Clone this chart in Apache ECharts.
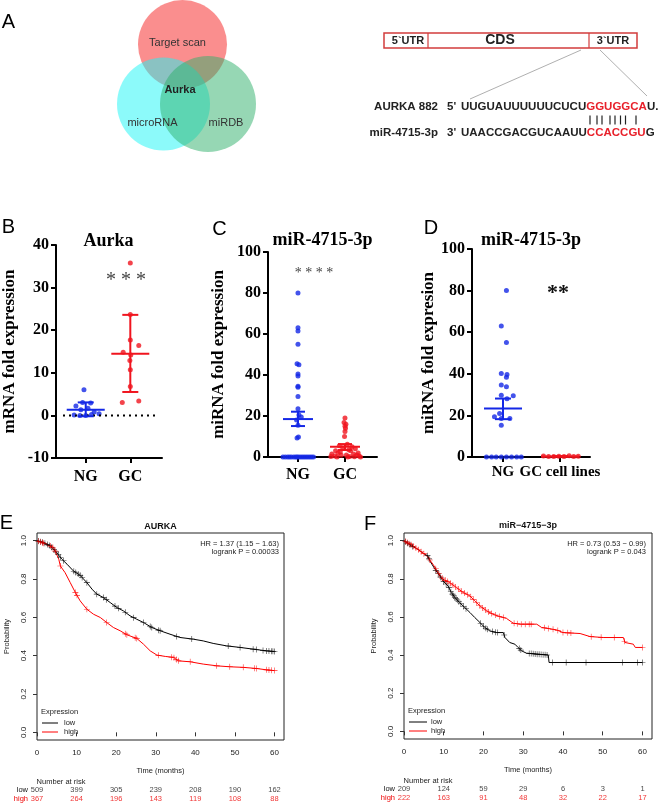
<!DOCTYPE html>
<html><head><meta charset="utf-8">
<script src="https://cdn.jsdelivr.net/npm/echarts@6/dist/echarts.min.js"></script>
<style>html,body{margin:0;padding:0;background:#fff}#c{width:658px;height:803px}</style>
</head><body><div id="c"></div>
<script>
// ================= DATA =================
// Panel B (Aurka mRNA)
const bCats = ['NG', 'GC'];
const bNG  = [6.0, 3.0, 2.9, 2.2, 1.7, 1.3, 0.8, 0.4, 0.1, 0.0, 0.0, 0.2];
const bNGx = [-0.04, -0.07, 0.11, -0.22, 0.05, -0.11, 0.19, 0.30, -0.26, -0.13, 0.0, 0.13];
const bGC  = [35.8, 23.7, 17.7, 16.4, 14.8, 14.2, 12.9, 10.7, 6.8, 3.0, 3.4];
const bGCx = [0.0, 0.0, 0.0, 0.19, -0.16, 0.01, -0.01, 0.0, 0.0, -0.18, 0.19];
const bStats = [[1, 1.3, -0.2, 3.05], [2, 14.5, 5.5, 23.6]]; // [group, mean, low, high]

// Panel C (miR-4715-3p tissues)
const cCats = ['NG', 'GC'];
const cNG  = [80, 63, 61.5, 55, 45.5, 45, 40.5, 39.5, 34.5, 34, 29.5, 23.5, 20.5, 19.5, 18, 15.5, 9.8, 9.3,
              0, 0, 0, 0, 0, 0, 0, 0, 0, 0, 0, 0, 0, 0, 0, 0, 0];
const cNGx = [0, 0, 0, 0, -0.02, 0.02, 0, 0, 0, 0, 0, 0, 0.02, 0.07, -0.03, 0, 0.01, -0.02,
              -0.32, -0.27, -0.22, -0.18, -0.14, -0.09, -0.05, -0.02, 0.01, 0.05, 0.09, 0.13, 0.17, 0.21, 0.25, 0.29, 0.33];
const cGC  = [19, 16.8, 16, 15, 14, 12.5, 10, 6.2, 5.5, 5, 4.5, 4, 3.5, 3, 3, 2.5, 2, 2, 1.5, 1.5, 1, 1, 0.8, 0.5, 0.5, 0.3, 0.2, 0.1, 0, 0, 0];
const cGCx = [0, -0.02, 0.02, 0, 0.01, 0, -0.01, 0.05, -0.12, 0.15, -0.05, 0.22, 0.08, -0.2, 0.12, -0.1, 0.28, -0.15, 0.18, -0.28, 0.03, 0.25, -0.08, -0.22, 0.3, 0.1, -0.3, 0.2, -0.17, 0.06, 0.33];
const cStats = [[1, 18.5, 15.1, 22.1], [2, 5.0, 3.4, 6.3]];

// Panel D (miR-4715-3p cell lines)
const dCats = ['NG', 'GC cell lines'];
const dNG  = [80, 63, 55, 40.2, 39.7, 38.3, 34.6, 33.8, 29.7, 29.5, 28, 20.9, 19.3, 18.5, 18.5, 15.3, 0, 0, 0, 0, 0, 0, 0, 0];
const dNGx = [0.06, -0.03, 0.06, -0.03, 0.07, 0.06, -0.03, 0.06, -0.03, 0.18, 0.07, -0.06, -0.15, -0.03, 0.12, -0.03, -0.29, -0.2, -0.12, -0.03, 0.06, 0.15, 0.24, 0.32];
const dGC  = [0.5, 0.3, 0.2, 0.4, 0.3, 0.6, 0.2, 0.4];
const dGCx = [-0.29, -0.2, -0.11, -0.02, 0.07, 0.16, 0.24, 0.32];
const dStats = [[1, 23.3, 18.2, 28.1], [2, 0.3, 0.2, 0.4]];

// Panel E (AURKA KM)
const eLowT  = [0, 1.7, 3.4, 5.0, 6.3, 7.6, 9.2, 10.9, 12.6, 13.9, 15.1, 16.8, 18.5, 20.2, 21.8, 23.5, 25.2, 26.9, 29.0, 31.1, 33.6, 36.1, 39.5, 42.0, 44.5, 47.9, 51.3, 54.6, 58.0, 60.0];
const eLowS  = [1.0, 0.99, 0.972, 0.937, 0.903, 0.877, 0.842, 0.819, 0.781, 0.747, 0.721, 0.703, 0.677, 0.651, 0.634, 0.608, 0.59, 0.573, 0.547, 0.53, 0.512, 0.495, 0.486, 0.477, 0.464, 0.451, 0.443, 0.434, 0.425, 0.422];
const eHighT = [0, 2.5, 4.2, 5.5, 5.9, 7.1, 8.4, 9.7, 10.9, 12.6, 14.3, 16.0, 17.6, 19.3, 21.0, 22.7, 25.2, 26.9, 28.6, 30.3, 32.4, 34.5, 35.7, 38.7, 42.0, 45.4, 48.7, 52.1, 55.5, 58.0, 60.0];
const eHighS = [1.0, 0.98, 0.964, 0.903, 0.868, 0.833, 0.781, 0.729, 0.686, 0.642, 0.616, 0.599, 0.573, 0.547, 0.53, 0.509, 0.49, 0.46, 0.425, 0.403, 0.396, 0.391, 0.373, 0.368, 0.356, 0.347, 0.342, 0.339, 0.333, 0.326, 0.322];
const eLowCens  = [0.4, 0.9, 1.4, 2.0, 2.6, 3.1, 3.7, 4.3, 4.8, 5.4, 5.9, 6.7, 9.3, 9.8, 10.4, 10.9, 11.4, 12.6, 15.1, 16.8, 17.5, 19.7, 20.6, 22.3, 24.4, 26.9, 28.6, 29.0, 30.7, 31.1, 35.3, 39.1, 48.3, 51.3, 54.6, 55.4, 57.1, 58.0, 58.6, 59.2, 59.6, 60.0];
const eHighCens = [0.4, 0.9, 1.4, 1.7, 3.4, 4.0, 4.6, 5.9, 9.7, 10.1, 12.6, 17.6, 22.3, 22.7, 24.8, 25.2, 30.7, 34.0, 34.6, 35.2, 35.7, 38.7, 45.4, 48.7, 52.1, 55.0, 55.5, 58.0, 58.6, 59.2, 60.0];
const riskTimes = [0, 10, 20, 30, 40, 50, 60];
const eRiskLow  = [509, 399, 305, 239, 208, 190, 162];
const eRiskHigh = [367, 264, 196, 143, 119, 108, 88];

// Panel F (miR-4715-3p KM)
const fLowT  = [0, 1.9, 3.5, 4.8, 6.0, 6.5, 7.3, 8.1, 9.0, 9.8, 11.1, 11.9, 12.8, 14.0, 15.3, 16.6, 17.8, 19.1, 20.3, 21.6, 23.3, 25.0, 25.4, 26.6, 27.9, 28.7, 29.6, 30.8, 33.4, 36.3, 36.5, 60.0];
const fLowS  = [1.0, 0.972, 0.955, 0.934, 0.92, 0.894, 0.867, 0.841, 0.815, 0.789, 0.762, 0.728, 0.702, 0.675, 0.649, 0.623, 0.597, 0.571, 0.545, 0.527, 0.518, 0.518, 0.492, 0.466, 0.457, 0.44, 0.422, 0.41, 0.405, 0.4, 0.361, 0.361];
const fHighT = [0, 2.3, 4.0, 5.6, 7.3, 8.6, 9.8, 11.5, 13.2, 14.9, 16.6, 17.8, 19.1, 20.8, 22.4, 24.1, 25.8, 27.5, 29.2, 33.4, 34.6, 38.4, 40.0, 44.3, 46.8, 50.2, 55.2, 55.6, 57.7, 58.2, 60.0];
const fHighS = [1.0, 0.972, 0.946, 0.923, 0.876, 0.832, 0.798, 0.78, 0.754, 0.728, 0.71, 0.684, 0.658, 0.632, 0.614, 0.602, 0.592, 0.567, 0.562, 0.562, 0.545, 0.532, 0.518, 0.513, 0.497, 0.492, 0.492, 0.466, 0.457, 0.44, 0.44];
const fLowCens  = [0.4, 0.9, 1.5, 2.1, 5.9, 6.3, 8.0, 8.6, 9.2, 10.0, 10.6, 11.3, 11.8, 12.2, 12.5, 12.8, 13.1, 13.4, 13.8, 14.3, 15.0, 15.6, 19.3, 20.0, 20.6, 21.0, 22.3, 23.0, 23.5, 25.2, 29.0, 29.4, 31.5, 32.0, 32.5, 33.0, 33.5, 34.0, 34.5, 35.0, 35.5, 36.0, 37.4, 40.8, 45.8, 55.0, 58.8, 60.0];
const fHighCens = [0.4, 0.8, 1.3, 1.8, 2.4, 3.0, 3.6, 4.3, 5.0, 6.5, 8.0, 8.8, 9.6, 10.4, 11.0, 11.7, 12.3, 13.0, 13.7, 14.5, 15.2, 16.0, 16.8, 17.5, 18.3, 19.0, 19.8, 20.5, 21.3, 22.0, 23.0, 24.0, 25.0, 27.7, 28.5, 29.5, 30.5, 31.5, 32.0, 35.3, 36.3, 37.5, 38.7, 40.0, 41.2, 42.0, 47.1, 49.6, 52.9, 55.5, 60.0];
const fRiskLow  = [209, 124, 59, 29, 6, 3, 1];
const fRiskHigh = [222, 163, 91, 48, 32, 22, 17];

const kmTicks = [0, 10, 20, 30, 40, 50, 60];
const probTicks = [0, 0.2, 0.4, 0.6, 0.8, 1.0];

// ================= HELPERS =================
const serif = "'Liberation Serif','Times New Roman',serif";
const sans = "'Liberation Sans',Arial,Helvetica,sans-serif";
const BLUE = '#1428e6', RED = '#f0141e';
const KRED = '#ff0000';

function pts(vals, offs, c) { return vals.map((v, i) => [c + offs[i], v]); }
function zip(t, s) { return t.map((x, i) => [x, s[i]]); }
function survAt(t, T, S) {
  for (let i = 1; i < T.length; i++) {
    if (t <= T[i]) { const f = (t - T[i-1]) / (T[i] - T[i-1]); return S[i-1] + f * (S[i] - S[i-1]); }
  }
  return S[S.length - 1];
}
const plusSym = 'path://M4.5,0h1v10h-1zM0,4.5h10v1h-10z';

function dotXAxis(gi, min, max, cats, margin, fs) {
  return { type: 'value', gridIndex: gi, min: min, max: max,
    axisLine: { show: true, onZero: false, lineStyle: { color: '#000', width: 2 } },
    axisTick: { show: true, customValues: [1, 2], length: 5, lineStyle: { width: 2, color: '#000' } },
    axisLabel: { customValues: [1, 2], formatter: v => cats[Math.round(v) - 1], margin: margin, color: '#000',
      fontFamily: serif, fontWeight: 'bold', fontSize: fs || 16 },
    splitLine: { show: false } };
}
function dotYAxis(gi, min, max, interval, name, gap) {
  return { type: 'value', gridIndex: gi, min: min, max: max, interval: interval, name: name,
    nameLocation: 'middle', nameGap: gap,
    nameTextStyle: { fontFamily: serif, fontWeight: 'bold', fontSize: 17, color: '#000' },
    axisLine: { show: true, onZero: false, lineStyle: { color: '#000', width: 2 } },
    axisTick: { show: true, length: 5, lineStyle: { width: 2, color: '#000' } },
    axisLabel: { margin: 7, color: '#000', fontFamily: serif, fontWeight: 'bold', fontSize: 16 },
    splitLine: { show: false } };
}
function kmXAxis(gi) {
  return { type: 'value', gridIndex: gi, min: 0, max: 62.4, name: 'Time (months)', nameLocation: 'middle', nameGap: 27,
    nameTextStyle: { fontFamily: sans, fontSize: 7.5, color: '#222' },
    axisLine: { show: false },
    axisTick: { show: true, customValues: kmTicks, length: 4, lineStyle: { color: '#333', width: 1 } },
    axisLabel: { customValues: kmTicks, margin: 9, fontFamily: sans, fontSize: 8, color: '#222' },
    splitLine: { show: false } };
}
function kmYAxis(gi) {
  return { type: 'value', gridIndex: gi, min: -0.04, max: 1.04, name: 'Probability', nameLocation: 'middle', nameGap: 26,
    nameTextStyle: { fontFamily: sans, fontSize: 7.5, color: '#222' },
    axisLine: { show: false },
    axisTick: { show: true, customValues: probTicks, length: 4, lineStyle: { color: '#333', width: 1 } },
    axisLabel: { customValues: probTicks, rotate: 90, margin: 9, formatter: v => v.toFixed(1),
      fontFamily: sans, fontSize: 8, color: '#222' },
    splitLine: { show: false } };
}
function riskYAxis(gi) {
  return { type: 'category', gridIndex: gi, data: ['high', 'low'],
    axisLine: { show: false }, axisTick: { show: false },
    axisLabel: { interval: 0, hideOverlap: false, margin: 9, formatter: v => '{' + v + '|' + v + '}',
      rich: { low: { color: '#111', fontSize: 7.5, fontFamily: sans, lineHeight: 8 }, high: { color: '#e00', fontSize: 7.5, fontFamily: sans, lineHeight: 8 } } } };
}
function dotSeries(gi, data, color) {
  return { type: 'scatter', xAxisIndex: gi, yAxisIndex: gi, data: data, symbolSize: 5, clip: false,
    itemStyle: { color: color }, silent: true };
}
function errSeries(gi, stat, color, halfMean, halfCap) {
  return { type: 'custom', xAxisIndex: gi, yAxisIndex: gi, clip: false, silent: true, z: 5,
    data: [stat],
    renderItem: function (params, api) {
      const x = api.value(0), m = api.value(1), lo = api.value(2), hi = api.value(3);
      const pm = api.coord([x, m]), pl = api.coord([x, lo]), ph = api.coord([x, hi]);
      const st = { stroke: color, lineWidth: 2 };
      return { type: 'group', children: [
        { type: 'line', shape: { x1: pm[0] - halfMean, y1: pm[1], x2: pm[0] + halfMean, y2: pm[1] }, style: st },
        { type: 'line', shape: { x1: pl[0], y1: pl[1], x2: ph[0], y2: ph[1] }, style: st },
        { type: 'line', shape: { x1: pl[0] - halfCap, y1: pl[1], x2: pl[0] + halfCap, y2: pl[1] }, style: st },
        { type: 'line', shape: { x1: ph[0] - halfCap, y1: ph[1], x2: ph[0] + halfCap, y2: ph[1] }, style: st }
      ] };
    } };
}
function kmLine(gi, name, T, S, color) {
  return { type: 'line', name: name, xAxisIndex: gi, yAxisIndex: gi, data: zip(T, S), symbol: 'none',
    lineStyle: { color: color, width: 1 }, itemStyle: { color: color }, silent: true, z: 3 };
}
function kmCens(gi, C, T, S, color) {
  return { type: 'scatter', xAxisIndex: gi, yAxisIndex: gi, data: C.map(t => [t, survAt(t, T, S)]),
    symbol: plusSym, symbolSize: 6, itemStyle: { color: color }, silent: true, clip: false, z: 4 };
}
function riskSeries(gi, row, counts, color) {
  return { type: 'scatter', xAxisIndex: gi, yAxisIndex: gi, symbolSize: 0, silent: true,
    data: riskTimes.map((t, i) => [t, row, counts[i]]),
    label: { show: true, position: 'inside', formatter: p => String(p.value[2]), color: color, fontSize: 7.5, fontFamily: sans } };
}

// ================= GRAPHICS (panel A, titles, annotations) =================
const G = [];
function txt(x, y, text, o) {
  G.push({ type: 'text', x: x, y: y, silent: true,
    style: Object.assign({ text: text, fill: '#000', align: 'center', verticalAlign: 'middle', fontFamily: sans, fontSize: 12 }, o || {}) });
}
function ln(x1, y1, x2, y2, color, w) {
  G.push({ type: 'line', silent: true, shape: { x1: x1, y1: y1, x2: x2, y2: y2 }, style: { stroke: color, lineWidth: w || 1 } });
}
// panel letters
[['A', 8.5, 22.5], ['B', 8.5, 227.5], ['C', 219.5, 229.5], ['D', 431, 228], ['E', 6.5, 523.5], ['F', 370, 524.5]]
  .forEach(a => txt(a[1], a[2], a[0], { fontSize: 20 }));
// Venn
G.push({ type: 'circle', silent: true, shape: { cx: 182.5, cy: 44.5, r: 44.5 }, style: { fill: 'rgba(245,30,30,0.5)' } });
G.push({ type: 'circle', silent: true, shape: { cx: 163.5, cy: 104, r: 46.5 }, style: { fill: 'rgba(25,245,245,0.5)' } });
G.push({ type: 'circle', silent: true, shape: { cx: 208, cy: 104, r: 48 }, style: { fill: 'rgba(45,175,105,0.5)' } });
txt(177.5, 43, 'Target scan', { fontSize: 11, fill: '#333' });
txt(180, 90, 'Aurka', { fontSize: 11, fontWeight: 'bold', fill: '#222' });
txt(152.5, 122.5, 'microRNA', { fontSize: 11, fill: '#333' });
txt(226, 122.5, 'miRDB', { fontSize: 11, fill: '#333' });
// UTR diagram
G.push({ type: 'rect', silent: true, shape: { x: 384, y: 33, width: 253, height: 15 }, style: { fill: 'none', stroke: '#d23c3c', lineWidth: 1.5 } });
ln(428, 33, 428, 48, '#d23c3c', 1.2);
ln(589, 33, 589, 48, '#d23c3c', 1.2);
txt(408, 41, '5`UTR', { fontSize: 11, fontWeight: 'bold', fill: '#222' });
txt(500, 40.5, 'CDS', { fontSize: 14, fontWeight: 'bold', fill: '#222' });
txt(613, 41, '3`UTR', { fontSize: 11, fontWeight: 'bold', fill: '#222' });
ln(581, 50, 470, 99, '#9a9a9a', 0.8);
ln(600, 50, 647, 96, '#9a9a9a', 0.8);
const seqFont = { fontSize: 11.5, fontWeight: 'bold', fill: '#222' };
txt(438, 106.7, 'AURKA 882', Object.assign({ align: 'right' }, seqFont));
txt(447, 106.7, "5'", Object.assign({ align: 'left' }, seqFont));
txt(461, 106.7, '{k|UUGUAUUUUUUCUCU}{r|GGUGGCA}{k|U..}', Object.assign({ align: 'left',
  rich: { k: { fill: '#222', fontSize: 11.5, fontWeight: 'bold', fontFamily: sans }, r: { fill: '#e8202a', fontSize: 11.5, fontWeight: 'bold', fontFamily: sans } } }, seqFont));
[590, 597, 602, 610, 615, 620.5, 625.5, 636].forEach(x => ln(x, 115.5, x, 124.5, '#222', 1.2));
txt(438, 133.3, 'miR-4715-3p', Object.assign({ align: 'right' }, seqFont));
txt(447, 133.3, "3'", Object.assign({ align: 'left' }, seqFont));
txt(461, 133.3, '{k|UAACCGACGUCAAUU}{r|CCACCGU}{k|G}', Object.assign({ align: 'left',
  rich: { k: { fill: '#222', fontSize: 11.5, fontWeight: 'bold', fontFamily: sans }, r: { fill: '#e8202a', fontSize: 11.5, fontWeight: 'bold', fontFamily: sans } } }, seqFont));
// dot-plot titles and stars
txt(108.5, 241.5, 'Aurka', { fontFamily: serif, fontWeight: 'bold', fontSize: 18 });
txt(322.5, 240, 'miR-4715-3p', { fontFamily: serif, fontWeight: 'bold', fontSize: 18 });
txt(531, 240, 'miR-4715-3p', { fontFamily: serif, fontWeight: 'bold', fontSize: 18 });
txt(126, 281, '* * *', { fontFamily: serif, fontSize: 20, fill: '#444' });
txt(314, 273, '* * * *', { fontFamily: serif, fontSize: 14, fill: '#444' });
txt(558, 293, '**', { fontFamily: serif, fontSize: 22, fontWeight: 'bold', fill: '#111' });
// KM annotations
const kmF = { fontSize: 7.5, fill: '#222' };
txt(160.5, 527, 'AURKA', { fontSize: 9, fontWeight: 'bold', fill: '#111' });
txt(279, 543.7, 'HR = 1.37 (1.15 \u2212 1.63)', Object.assign({ align: 'right' }, kmF));
txt(279, 552, 'logrank P = 0.00033', Object.assign({ align: 'right' }, kmF));
txt(528, 526, 'miR\u22124715\u22123p', { fontSize: 9, fontWeight: 'bold', fill: '#111' });
txt(646, 543.5, 'HR = 0.73 (0.53 \u2212 0.99)', Object.assign({ align: 'right' }, kmF));
txt(646, 552, 'logrank P = 0.043', Object.assign({ align: 'right' }, kmF));
// KM legends
txt(41, 712, 'Expression', Object.assign({ align: 'left' }, kmF));
ln(42, 723, 58, 723, '#000', 1); txt(64, 723, 'low', Object.assign({ align: 'left' }, kmF));
ln(42, 732, 58, 732, KRED, 1); txt(64, 732, 'high', Object.assign({ align: 'left' }, kmF));
txt(408, 711, 'Expression', Object.assign({ align: 'left' }, kmF));
ln(409, 722, 427, 722, '#000', 1); txt(431, 722, 'low', Object.assign({ align: 'left' }, kmF));
ln(409, 731, 427, 731, KRED, 1); txt(431, 731, 'high', Object.assign({ align: 'left' }, kmF));
txt(61, 782, 'Number at risk', kmF);
txt(428, 780.5, 'Number at risk', kmF);

// ================= OPTION =================
const option = {
  animation: false,
  backgroundColor: '#fff',
  grid: [
    { left: 55, top: 245, width: 107, height: 213 },
    { left: 268, top: 252, width: 109, height: 205 },
    { left: 472, top: 249, width: 118, height: 208 },
    { left: 37, top: 533, width: 247, height: 207, show: true, borderColor: '#222', borderWidth: 1, backgroundColor: 'transparent' },
    { left: 404, top: 533, width: 248, height: 206, show: true, borderColor: '#222', borderWidth: 1, backgroundColor: 'transparent' },
    { left: 37, top: 785.5, width: 247, height: 18 },
    { left: 404, top: 784.5, width: 248, height: 18 }
  ],
  xAxis: [
    dotXAxis(0, 0.333, 2.711, bCats, 11),
    dotXAxis(1, 0.362, 2.681, cCats, 10),
    dotXAxis(2, 0.456, 2.526, dCats, 8, 15),
    kmXAxis(3), kmXAxis(4),
    { type: 'value', gridIndex: 5, min: 0, max: 62.4, show: false },
    { type: 'value', gridIndex: 6, min: 0, max: 62.4, show: false }
  ],
  yAxis: [
    dotYAxis(0, -10, 40, 10, 'mRNA fold expression', 38),
    dotYAxis(1, 0, 100, 20, 'miRNA fold expression', 41),
    dotYAxis(2, 0, 100, 20, 'miRNA fold expresion', 35),
    kmYAxis(3), kmYAxis(4),
    riskYAxis(5), riskYAxis(6)
  ],
  graphic: G,
  series: [
    { type: 'line', xAxisIndex: 0, yAxisIndex: 0, data: [[0.49, 0], [2.6, 0]], symbol: 'none', silent: true,
      lineStyle: { color: '#000', width: 2, type: [2, 4] } },
    dotSeries(0, pts(bNG, bNGx, 1), BLUE), dotSeries(0, pts(bGC, bGCx, 2), RED),
    errSeries(0, bStats[0], BLUE, 19, 8), errSeries(0, bStats[1], RED, 19, 8),
    dotSeries(1, pts(cNG, cNGx, 1), BLUE), dotSeries(1, pts(cGC, cGCx, 2), RED),
    errSeries(1, cStats[0], BLUE, 15, 7), errSeries(1, cStats[1], RED, 15, 7),
    dotSeries(2, pts(dNG, dNGx, 1), BLUE), dotSeries(2, pts(dGC, dGCx, 2), RED),
    errSeries(2, dStats[0], BLUE, 19, 8), errSeries(2, dStats[1], RED, 19, 8),
    kmLine(3, 'low', eLowT, eLowS, '#000'), kmLine(3, 'high', eHighT, eHighS, KRED),
    kmCens(3, eLowCens, eLowT, eLowS, '#000'), kmCens(3, eHighCens, eHighT, eHighS, KRED),
    kmLine(4, 'low', fLowT, fLowS, '#000'), kmLine(4, 'high', fHighT, fHighS, KRED),
    kmCens(4, fLowCens, fLowT, fLowS, '#000'), kmCens(4, fHighCens, fHighT, fHighS, KRED),
    riskSeries(5, 'low', eRiskLow, '#111'), riskSeries(5, 'high', eRiskHigh, '#e00'),
    riskSeries(6, 'low', fRiskLow, '#111'), riskSeries(6, 'high', fRiskHigh, '#e00')
  ]
};
const chart = echarts.init(document.getElementById('c'), null, { renderer: 'canvas' });
chart.setOption(option);
</script>
</body></html>
